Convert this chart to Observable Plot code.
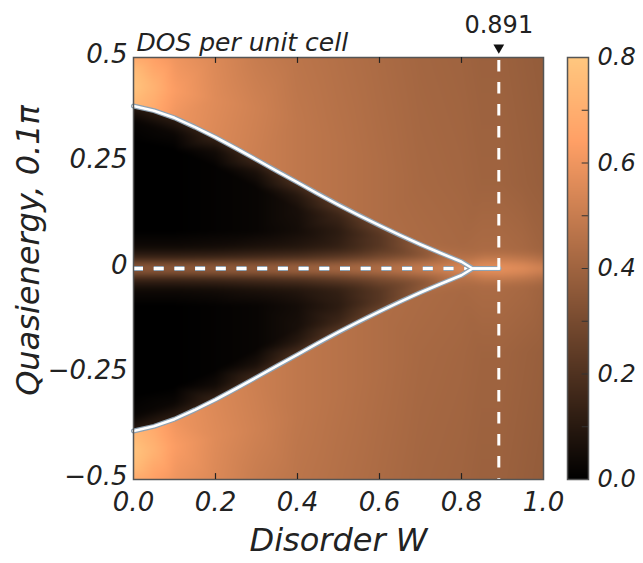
<!DOCTYPE html>
<html><head><meta charset="utf-8">
<script src="https://cdn.jsdelivr.net/npm/d3@7"></script>
<script src="https://cdn.jsdelivr.net/npm/@observablehq/plot@0.6"></script>
<style>
html,body{margin:0;padding:0;background:#fff;}
#chart{position:relative;width:643px;height:563px;overflow:hidden;}
#chart svg{position:absolute;top:0;}
</style></head><body><div id="chart"></div>
<script>
// ---------- tick labels ----------
const xTicks = [0, 0.2, 0.4, 0.6, 0.8, 1.0];
const xTickLabels = ["0.0", "0.2", "0.4", "0.6", "0.8", "1.0"];
const xInnerTicks = [0.2, 0.4, 0.6, 0.8];
const yTicks = [0.5, 0.25, 0, -0.25, -0.5];
const yTickLabels = ["0.5", "0.25", "0", "\u22120.25", "\u22120.5"];
const cbTicks = [0, 0.2, 0.4, 0.6, 0.8];
const cbTickLabels = ["0.0", "0.2", "0.4", "0.6", "0.8"];
const cbMinorTicks = [0.1, 0.2, 0.3, 0.4, 0.5, 0.6, 0.7];

// ---------- critical disorder ----------
const criticalW = 0.891;
const criticalLabel = "0.891";
const tipW = 0.827;

// ---------- gap edge (upper branch; lower is mirror) ----------
const edgeW = [0, 0.05, 0.1, 0.15, 0.2, 0.25, 0.3, 0.35, 0.4, 0.45, 0.5, 0.55, 0.6, 0.65, 0.7, 0.75, 0.8, 0.827];
const edgeE = [0.385, 0.374, 0.357, 0.335, 0.311, 0.285, 0.258, 0.231, 0.204, 0.177, 0.151, 0.126, 0.102, 0.079, 0.057, 0.036, 0.016, 0];

// ---------- DOS inside the gap: [E, DOS] per column (upper half, mirrored) ----------
const gapColumnW = [0, 0.1, 0.2, 0.3, 0.4, 0.5, 0.6, 0.7, 0.75, 0.8];
const gapW00 = [[0, 0.36], [0.012, 0.3], [0.025, 0.15], [0.05, 0.04], [0.09, 0], [0.3, 0], [0.35, 0.02], [0.385, 0.1]];
const gapW01 = [[0, 0.36], [0.012, 0.3], [0.025, 0.15], [0.05, 0.04], [0.09, 0], [0.28, 0], [0.32, 0.03], [0.357, 0.12]];
const gapW02 = [[0, 0.37], [0.012, 0.31], [0.025, 0.16], [0.05, 0.05], [0.09, 0.01], [0.24, 0.01], [0.28, 0.05], [0.311, 0.14]];
const gapW03 = [[0, 0.38], [0.012, 0.32], [0.025, 0.18], [0.05, 0.07], [0.09, 0.02], [0.19, 0.02], [0.23, 0.07], [0.258, 0.16]];
const gapW04 = [[0, 0.4], [0.012, 0.34], [0.025, 0.2], [0.05, 0.09], [0.09, 0.05], [0.14, 0.06], [0.175, 0.1], [0.204, 0.19]];
const gapW05 = [[0, 0.42], [0.012, 0.36], [0.025, 0.24], [0.05, 0.13], [0.09, 0.11], [0.125, 0.15], [0.151, 0.22]];
const gapW06 = [[0, 0.45], [0.012, 0.4], [0.025, 0.3], [0.05, 0.22], [0.08, 0.22], [0.102, 0.27]];
const gapW07 = [[0, 0.5], [0.012, 0.45], [0.03, 0.34], [0.057, 0.36]];
const gapW075 = [[0, 0.53], [0.015, 0.46], [0.036, 0.4]];
const gapW08 = [[0, 0.56], [0.016, 0.5]];
const gapTipDOS = 0.58;

// ---------- DOS outside the gap (bulk): [E, DOS] per column (upper half, mirrored) ----------
const bulkColumnW = [0, 0.05, 0.1, 0.2, 0.3, 0.4, 0.5, 0.6, 0.7, 0.8, 0.85, 0.9, 0.95, 1.0];
const bulkW00 = [[0.385, 0.74], [0.43, 0.79], [0.47, 0.76], [0.5, 0.68]];
const bulkW005 = [[0.374, 0.68], [0.43, 0.72], [0.5, 0.64]];
const bulkW01 = [[0.357, 0.6], [0.42, 0.63], [0.5, 0.6]];
const bulkW02 = [[0.311, 0.55], [0.4, 0.56], [0.5, 0.55]];
const bulkW03 = [[0.258, 0.51], [0.38, 0.52], [0.5, 0.5]];
const bulkW04 = [[0.204, 0.48], [0.35, 0.48], [0.5, 0.47]];
const bulkW05 = [[0.151, 0.46], [0.3, 0.46], [0.5, 0.45]];
const bulkW06 = [[0.102, 0.44], [0.25, 0.44], [0.5, 0.43]];
const bulkW07 = [[0.057, 0.43], [0.2, 0.42], [0.5, 0.41]];
const bulkW08 = [[0, 0.56], [0.016, 0.47], [0.05, 0.42], [0.2, 0.41], [0.5, 0.4]];
const bulkW085 = [[0, 0.6], [0.015, 0.52], [0.04, 0.43], [0.2, 0.4], [0.5, 0.39]];
const bulkW09 = [[0, 0.6], [0.015, 0.53], [0.04, 0.43], [0.2, 0.4], [0.5, 0.39]];
const bulkW095 = [[0, 0.58], [0.015, 0.51], [0.04, 0.42], [0.2, 0.39], [0.5, 0.38]];
const bulkW10 = [[0, 0.54], [0.015, 0.47], [0.04, 0.4], [0.2, 0.38], [0.5, 0.37]];

// ---------- build tables ----------
function mirrored(ws, cols) {
  const out = [];
  ws.forEach((w, i) => cols[i].forEach(([e, v]) => {
    out.push({W: w, E: e, v});
    if (e > 0) out.push({W: w, E: -e, v});
  }));
  return out;
}
const gapPoints = mirrored(gapColumnW, [gapW00, gapW01, gapW02, gapW03, gapW04, gapW05, gapW06, gapW07, gapW075, gapW08]);
gapPoints.push({W: tipW, E: 0, v: gapTipDOS});
const bulkPoints = mirrored(bulkColumnW, [bulkW00, bulkW005, bulkW01, bulkW02, bulkW03, bulkW04, bulkW05, bulkW06, bulkW07, bulkW08, bulkW085, bulkW09, bulkW095, bulkW10]);

const edgeRows = edgeW.map((w, i) => ({W: w, E: edgeE[i]}));
const upper = edgeRows.concat([{W: criticalW, E: 0}]);
const edgeLines = [
  ...upper.map(d => ({W: d.W, E: d.E, s: "up"})),
  ...upper.map(d => ({W: d.W, E: -d.E, s: "lo"}))
];

const copper = t => `rgb(${Math.round(Math.min(1, 1.25 * t) * 255)},${Math.round(0.7812 * t * 255)},${Math.round(0.4975 * t * 255)})`;
const colorScale = {type: "linear", domain: [0, 0.8], interpolate: copper, clamp: true};

const FONT = "DejaVu Sans";
const INK = "#222";
const HALO = "#8ea2b3";

const main = Plot.plot({
  width: 560, height: 563,
  marginLeft: 133, marginRight: 17, marginTop: 57, marginBottom: 84,
  x: {domain: [0, 1], axis: null},
  y: {domain: [-0.5, 0.5], axis: null},
  color: colorScale,
  style: {fontFamily: FONT, background: "transparent", overflow: "visible"},
  marks: [
    Plot.raster(bulkPoints, {x: "W", y: "E", fill: "v", interpolate: "barycentric", x1: 0, x2: 1, y1: -0.5, y2: 0.5, blur: 3}),
    Plot.raster(gapPoints, {x: "W", y: "E", fill: "v", interpolate: "barycentric", x1: 0, x2: 1, y1: -0.5, y2: 0.5, blur: 2}),
    Plot.areaY(edgeRows, {x: "W", y1: d => -d.E, y2: d => d.E, fill: "black"}),
    // dashed zero-energy line inside the gap
    Plot.ruleY([0], {x1: 0, x2: 0.82, stroke: HALO, strokeWidth: 5, strokeDasharray: "10,10.7"}),
    Plot.ruleY([0], {x1: 0, x2: 0.82, stroke: "white", strokeWidth: 3, strokeDasharray: "10,10.7"}),
    // gap edges
    Plot.line(edgeLines, {x: "W", y: "E", z: "s", stroke: HALO, strokeWidth: 5, strokeLinejoin: "round"}),
    Plot.line(edgeLines, {x: "W", y: "E", z: "s", stroke: "white", strokeWidth: 2.6, strokeLinejoin: "round"}),
    // critical disorder line
    Plot.ruleX([criticalW], {y1: 0.5, y2: -0.5, stroke: "white", strokeWidth: 3, strokeDasharray: "11.5,10.5", strokeDashoffset: -3}),
    Plot.frame({stroke: "#555", strokeWidth: 1.5}),
    Plot.ruleX(xInnerTicks, {y1: -0.5, y2: -0.486, stroke: "#222", strokeWidth: 1.2}),
    Plot.ruleX(xInnerTicks, {y1: 0.5, y2: 0.486, stroke: "#222", strokeWidth: 1.2}),
    Plot.dot([criticalW], {x: d => d, y: () => 0.5, dy: -10, symbol: "triangle", rotate: 180, r: 4, fill: "#111", stroke: null}),
    Plot.text([criticalLabel], {x: () => criticalW, y: () => 0.5, dy: -32, text: d => d, fontSize: 24, fill: INK, lineAnchor: "middle"}),
    Plot.text(["DOS per unit cell"], {frameAnchor: "top-left", dx: 3, dy: -15, textAnchor: "start", lineAnchor: "middle", fontSize: 25, fontStyle: "italic", fill: INK}),
    Plot.text(xTicks, {x: xTicks, y: xTicks.map(() => -0.5), text: xTickLabels, dy: 23, lineAnchor: "middle", fontSize: 26, fontStyle: "italic", fill: INK}),
    Plot.text(yTicks, {x: yTicks.map(() => 0), y: yTicks, text: yTickLabels, dx: -6, dy: -3, textAnchor: "end", lineAnchor: "middle", fontSize: 26, fontStyle: "italic", fill: INK}),
    Plot.text(["Disorder W"], {frameAnchor: "bottom", dy: 61, textAnchor: "middle", lineAnchor: "middle", fontSize: 32, fontStyle: "italic", fill: INK}),
    Plot.text(["Quasienergy, 0.1\u03c0"], {frameAnchor: "left", dx: -105, dy: -18, rotate: -90, textAnchor: "middle", lineAnchor: "middle", fontSize: 32, fontStyle: "italic", fill: INK})
  ]
});

// clip the in-gap raster to the gap region drawn by the area mark
(function clipGap(svg) {
  const ns = "http://www.w3.org/2000/svg";
  const areaG = svg.querySelector('g[aria-label="area"]');
  const rasters = svg.querySelectorAll('g[aria-label="raster"]');
  if (!areaG || rasters.length < 2) return;
  const src = areaG.querySelector("path");
  const defs = document.createElementNS(ns, "defs");
  const cp = document.createElementNS(ns, "clipPath");
  cp.setAttribute("id", "gapclip");
  const p = document.createElementNS(ns, "path");
  p.setAttribute("d", src.getAttribute("d"));
  const t = areaG.getAttribute("transform");
  if (t) p.setAttribute("transform", t);
  cp.appendChild(p);
  defs.appendChild(cp);
  svg.insertBefore(defs, svg.firstChild);
  const gapG = rasters[1];
  const wrap = document.createElementNS(ns, "g");
  wrap.setAttribute("clip-path", "url(#gapclip)");
  gapG.parentNode.insertBefore(wrap, gapG);
  wrap.appendChild(gapG);
  areaG.remove();
})(main);

const cbar = Plot.plot({
  width: 83, height: 563,
  marginLeft: 7, marginRight: 55, marginTop: 57, marginBottom: 84,
  x: {domain: [0, 1], axis: null},
  y: {domain: [0, 0.8], axis: null},
  color: colorScale,
  style: {fontFamily: FONT, background: "transparent", overflow: "visible"},
  marks: [
    Plot.raster({x1: 0, x2: 1, y1: 0, y2: 0.8, fill: (x, y) => y, pixelSize: 1}),
    Plot.ruleY(cbMinorTicks, {x1: 0.7, x2: 1, stroke: "#333", strokeWidth: 1}),
    Plot.frame({stroke: "#555", strokeWidth: 1.5}),
    Plot.text(cbTicks, {x: cbTicks.map(() => 1), y: cbTicks, text: cbTickLabels, dx: 9, textAnchor: "start", lineAnchor: "middle", fontSize: 24, fontStyle: "italic", fill: INK})
  ]
});

const chart = document.getElementById("chart");
main.style.left = "0px";
cbar.style.left = "560px";
chart.appendChild(main);
chart.appendChild(cbar);
</script></body></html>
